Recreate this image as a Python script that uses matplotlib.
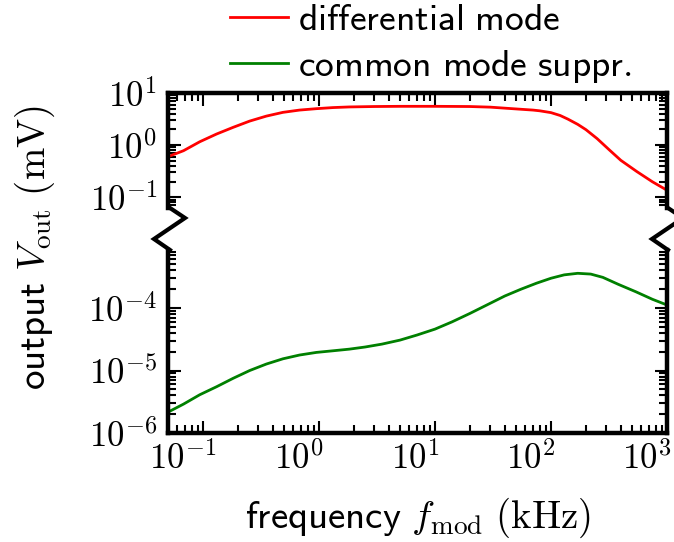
import matplotlib
matplotlib.use("Agg")
import numpy as np
import matplotlib.pyplot as plt
import matplotlib.transforms as mtransforms
from matplotlib.lines import Line2D
from matplotlib.ticker import FuncFormatter, NullFormatter

plt.rcParams['mathtext.fontset'] = 'cm'
plt.rcParams['font.family'] = 'DejaVu Sans'

# frequency (kHz) and output (mV)
f_diff = [0.052, 0.068, 0.094, 0.131, 0.182, 0.253, 0.352, 0.489, 0.68, 0.95, 1.32, 1.83,
          3, 5, 10, 20, 30, 53, 70, 80, 100, 120, 140, 170, 200, 250, 320, 400, 550, 750,
          1000]
v_diff = [0.62, 0.78, 1.16, 1.63, 2.19, 2.89, 3.6, 4.25, 4.7, 5.0, 5.25, 5.4,
          5.5, 5.55, 5.55, 5.5, 5.35, 4.9, 4.7, 4.55, 4.2, 3.7, 3.15, 2.5, 1.98, 1.33,
          0.8, 0.51, 0.31, 0.197, 0.136]

f_comm = [0.052, 0.068, 0.094, 0.131, 0.182, 0.253, 0.352, 0.489, 0.68, 0.95, 1.32, 1.83,
          2.5, 3.5, 5, 7, 10, 14, 20, 28, 40, 55, 75, 100, 130, 170, 220, 280, 380, 540,
          750, 1000]
v_comm = [2.24e-6, 2.9e-6, 4.1e-6, 5.5e-6, 7.5e-6, 1.0e-5, 1.27e-5, 1.54e-5, 1.77e-5,
          1.95e-5, 2.07e-5, 2.2e-5, 2.38e-5, 2.65e-5, 3.07e-5, 3.7e-5, 4.6e-5, 6.0e-5,
          8.2e-5, 1.12e-4, 1.56e-4, 2.0e-4, 2.5e-4, 3.0e-4, 3.4e-4, 3.6e-4, 3.5e-4,
          3.1e-4, 2.4e-4, 1.82e-4, 1.38e-4, 1.12e-4]

labels = [r'$\mathsf{differential\ mode}$', r'$\mathsf{common\ mode\ suppr.}$']
colors = ['#ff0000', '#008000']

W, H = 674, 542
fig = plt.figure(figsize=(W / 100, H / 100), dpi=100)

left, right = 168 / W, 667 / W
ax_top = fig.add_axes([left, (H - 208) / H, right - left, 115 / H])
ax_bot = fig.add_axes([left, (H - 433) / H, right - left, 183 / H])

ax_top.plot(f_diff, v_diff, color=colors[0], lw=2)
ax_bot.plot(f_comm, v_comm, color=colors[1], lw=2)

pow_fmt = FuncFormatter(lambda v, p: r'$10^{%d}$' % int(round(np.log10(v))))

for ax in (ax_top, ax_bot):
    ax.set_xscale('log')
    ax.set_yscale('log')
    ax.set_xlim(0.05, 1000)
    ax.xaxis.set_major_formatter(pow_fmt)
    ax.yaxis.set_major_formatter(pow_fmt)
    ax.xaxis.set_minor_formatter(NullFormatter())
    ax.yaxis.set_minor_formatter(NullFormatter())
    for s in ax.spines.values():
        s.set_linewidth(3.2)
    ax.tick_params(which='both', direction='in', width=1.5, labelsize=25,
                   left=True, right=True)
    ax.tick_params(which='major', length=9, pad=8)
    ax.tick_params(which='minor', length=5.5)

ax_top.set_ylim(0.062, 10)
ax_bot.set_ylim(1e-6, 8.5e-4)

ax_top.spines['bottom'].set_visible(False)
ax_top.tick_params(which='both', bottom=False, top=True, labelbottom=False)
ax_bot.spines['top'].set_visible(False)
ax_bot.tick_params(which='both', top=False, bottom=True)

ax_bot.set_xticks([0.1, 1, 10, 100, 1000])
# labels sit a bit left of the ticks, as in the reference
shift = mtransforms.ScaledTranslation(-0.2, 0.03, fig.dpi_scale_trans)
for lab in ax_bot.get_xticklabels():
    lab.set_transform(lab.get_transform() + shift)

# break markers (zigzag) on both sides
zx = [0, 15, -16, 0]
zy = [0, -10, -31, -42]
for xs in (170, 668):
    fig.add_artist(Line2D([(xs + dx) / W for dx in zx],
                          [(H - 208 + dy) / H for dy in zy],
                          transform=fig.transFigure, color='black', lw=3,
                          clip_on=False, solid_joinstyle='miter'))

fig.text(35 / W, 1 - 248 / H, r'$\mathsf{output}\ V_\mathrm{out}\ (\mathrm{mV})$',
         rotation=90, ha='center', va='center', fontsize=28)
fig.text(418 / W, 1 - 518 / H, r'$\mathsf{frequency}\ f_\mathrm{mod}\ (\mathrm{kHz})$',
         ha='center', va='center', fontsize=28)

handles = [Line2D([], [], color=c, lw=2) for c in colors]
fig.legend(handles, labels, loc='upper left', bbox_to_anchor=(230 / W, 0.997),
           frameon=False, fontsize=27, handlelength=1.55, handletextpad=0.25,
           labelspacing=0.28, borderpad=0, borderaxespad=0)

fig.savefig('out.png', dpi=100)
